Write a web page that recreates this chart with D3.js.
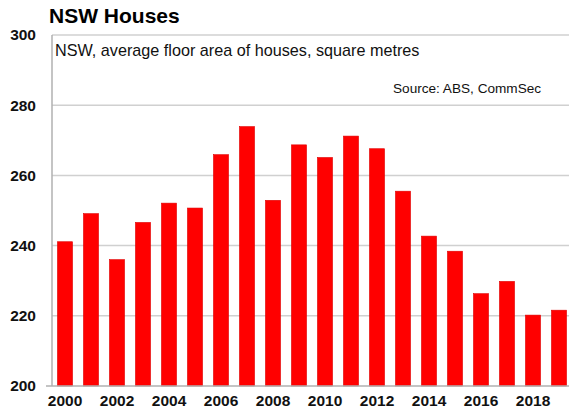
<!DOCTYPE html>
<html><head><meta charset="utf-8">
<script src="https://cdn.jsdelivr.net/npm/d3@7"></script>
<style>body{margin:0;background:#fff}svg{display:block}text{font-family:"Liberation Sans",Arial,sans-serif}</style>
</head><body>
<script>
const years = [2000,2001,2002,2003,2004,2005,2006,2007,2008,2009,2010,2011,2012,2013,2014,2015,2016,2017,2018,2019];
const values = [241.1,249.1,236.0,246.6,252.1,250.7,265.9,273.9,252.9,268.7,265.1,271.2,267.6,255.5,242.7,238.4,226.3,229.8,220.2,221.6];
const yTicks = [200,220,240,260,280,300];
const xTickLabels = [2000,2002,2004,2006,2008,2010,2012,2014,2016,2018];

const W = 573, H = 415;
const m = {left: 52, right: 1, top: 35, bottom: 29};
const svg = d3.select("body").append("svg").attr("width", W).attr("height", H);

const x = d3.scaleBand().domain(years).range([m.left, W - m.right]).paddingInner(0.42).paddingOuter(0.21);
const y = d3.scaleLinear().domain([200, 300]).range([H - m.bottom, m.top]);

// gridlines
svg.append("g").selectAll("line").data(yTicks.slice(1)).join("line")
  .attr("x1", m.left).attr("x2", W - 4)
  .attr("y1", d => y(d)).attr("y2", d => y(d))
  .attr("stroke", "#d0d0d0").attr("stroke-width", 1.5);

// bars
svg.append("g").selectAll("rect").data(years).join("rect")
  .attr("x", (d) => x(d)).attr("width", x.bandwidth())
  .attr("y", (d, i) => y(values[i])).attr("height", (d, i) => y(200) - y(values[i]))
  .attr("fill", "#ff0000").attr("stroke", "#e00000").attr("stroke-width", 0.6);

// axes lines
svg.append("line").attr("x1", m.left).attr("x2", m.left).attr("y1", m.top).attr("y2", y(200))
  .attr("stroke", "#b0b0b0").attr("stroke-width", 1.5);
svg.append("line").attr("x1", m.left - 6).attr("x2", W - 4).attr("y1", y(200)).attr("y2", y(200))
  .attr("stroke", "#b0b0b0").attr("stroke-width", 1.5);

// y axis
const yAxis = d3.axisLeft(y).tickValues(yTicks).tickSize(0).tickPadding(16);
const gy = svg.append("g").attr("transform", `translate(${m.left},0)`).call(yAxis);
gy.select(".domain").remove();
gy.selectAll("text").attr("font-size", 15.5).attr("font-weight", "bold").attr("fill", "#111")
  .style("font-family", '"Liberation Sans",Arial,sans-serif');

// x axis
const xAxis = d3.axisBottom(x).tickValues(xTickLabels).tickSize(0).tickPadding(9);
const gx = svg.append("g").attr("transform", `translate(0,${y(200)})`).call(xAxis);
gx.select(".domain").remove();
gx.selectAll("text").attr("font-size", 15.5).attr("font-weight", "bold").attr("fill", "#111")
  .style("font-family", '"Liberation Sans",Arial,sans-serif');

// titles
svg.append("text").attr("x", 49).attr("y", 23).attr("font-size", 21).attr("font-weight", "bold").attr("fill", "#000").text("NSW Houses");
svg.append("text").attr("x", 55).attr("y", 56).attr("font-size", 16.2).attr("fill", "#111").text("NSW, average floor area of houses, square metres");
svg.append("text").attr("x", 393).attr("y", 93).attr("font-size", 13.6).attr("fill", "#111").text("Source: ABS, CommSec");
</script>
</body></html>
